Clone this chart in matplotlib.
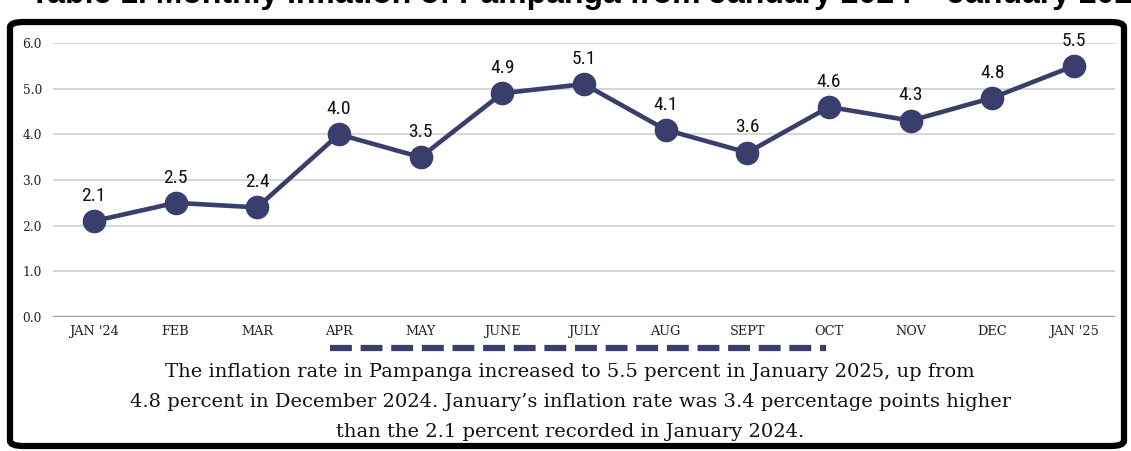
import matplotlib
matplotlib.use("Agg")
import matplotlib.pyplot as plt
from matplotlib.patches import FancyBboxPatch
from matplotlib.lines import Line2D

months = ["JAN '24", "FEB", "MAR", "APR", "MAY", "JUNE", "JULY",
          "AUG", "SEPT", "OCT", "NOV", "DEC", "JAN '25"]
inflation = [2.1, 2.5, 2.4, 4.0, 3.5, 4.9, 5.1, 4.1, 3.6, 4.6, 4.3, 4.8, 5.5]
yticks = [0.0, 1.0, 2.0, 3.0, 4.0, 5.0, 6.0]

title = "Table 1. Monthly Inflation of Pampanga from January 2024 \u2013 January 2025"
caption = ("The inflation rate in Pampanga increased to 5.5 percent in January 2025, up from\n"
           "4.8 percent in December 2024. January\u2019s inflation rate was 3.4 percentage points higher\n"
           "than the 2.1 percent recorded in January 2024.")

navy = "#3a3e6c"
W, H = 1131, 451

fig = plt.figure(figsize=(W / 100, H / 100), dpi=100)
fig.patch.set_facecolor("white")

# frame
frame = FancyBboxPatch((10 / W, 5 / H), 1114 / W, 424 / H,
                       boxstyle="round,pad=0,rounding_size=0.012",
                       transform=fig.transFigure, facecolor="white",
                       edgecolor="black", linewidth=4.5, zorder=-5)
fig.patches.append(frame)

# title (cut off at the top, as in the source)
fig.text(30 / W, 1 - 3 / H, title, fontsize=23, fontweight="bold",
         family="Liberation Sans", va="baseline", ha="left", color="black")

ax = fig.add_axes([53 / W, 134 / H, 1062 / W, 274 / H])
ax.set_zorder(2)
ax.set_facecolor("none")
x = list(range(len(months)))
ax.plot(x, inflation, color=navy, linewidth=3.3, marker="o",
        markersize=16, markerfacecolor=navy, markeredgecolor=navy, zorder=3)
for xi, v in zip(x, inflation):
    ax.annotate("%.1f" % v, (xi, v), xytext=(0, 14.5), textcoords="offset points",
                ha="center", va="baseline", fontsize=14, fontweight="normal",
                family=["Roboto Condensed", "Liberation Sans Narrow", "Roboto"],
                color="#111111")

ax.set_xlim(-0.5, 12.5)
ax.set_ylim(0, 6)
ax.set_yticks(yticks)
ax.set_yticklabels(["%.1f" % t for t in yticks], family="DejaVu Serif",
                   fontsize=8.8, color="#222222")
ax.set_xticks(x)
ax.set_xticklabels(months, family="DejaVu Serif", fontsize=9.3, color="#222222")
ax.tick_params(axis="both", length=0)
ax.tick_params(axis="y", pad=8)
ax.tick_params(axis="x", pad=6)
ax.grid(axis="y", color="#d0d0d0", linewidth=1.2)
ax.axhline(0, color="#999999", linewidth=1.6, zorder=2)
for s in ax.spines.values():
    s.set_visible(False)

# dashed rule under the axis
fig.lines.append(Line2D([330 / W, 826 / W], [1 - 348 / H, 1 - 348 / H],
                        transform=fig.transFigure, color=navy, linewidth=4.5,
                        linestyle=(0, (3.5, 1.4))))

fig.text(570 / W, 1 - 402 / H, caption, ha="center", va="center",
         fontsize=14, family="DejaVu Serif", color="#111111", linespacing=1.85)

fig.savefig("out.png", dpi=100)
